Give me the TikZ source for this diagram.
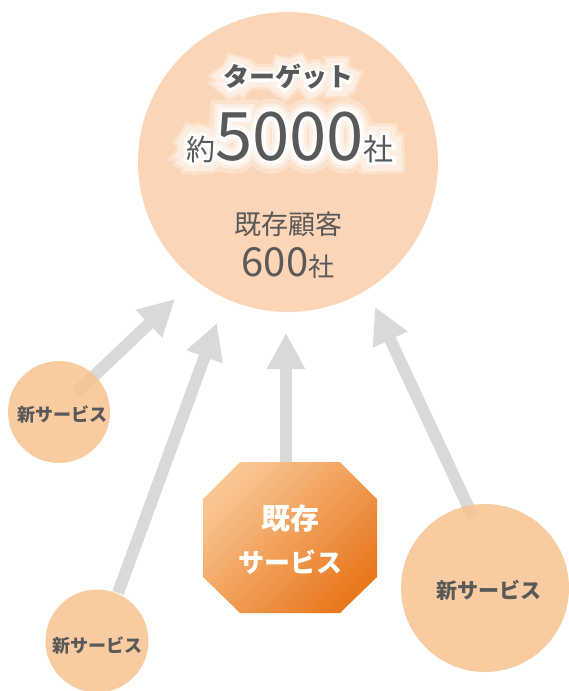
\documentclass[tikz,border=0pt]{standalone}
\usepackage{fontspec}
\setmainfont{Noto Sans CJK JP}
\newfontfamily\glowA[FakeBold=6,BoldFeatures={FakeBold=6}]{Noto Sans CJK JP}
\newfontfamily\glowB[FakeBold=14,BoldFeatures={FakeBold=14}]{Noto Sans CJK JP}
\newfontfamily\glowC[FakeBold=24,BoldFeatures={FakeBold=24}]{Noto Sans CJK JP}
\newfontfamily\glowD[FakeBold=38,BoldFeatures={FakeBold=38}]{Noto Sans CJK JP}
\newfontfamily\glowE[FakeBold=60,BoldFeatures={FakeBold=60}]{Noto Sans CJK JP}
\newfontfamily\glowF[FakeBold=80,BoldFeatures={FakeBold=80}]{Noto Sans CJK JP}
\usetikzlibrary{arrows.meta,calc}
\definecolor{bigc}{RGB}{251,213,181}
\definecolor{smallc}{RGB}{247,194,143}
\definecolor{arrowc}{RGB}{217,217,217}
\definecolor{txt}{RGB}{89,89,89}
\definecolor{octA}{RGB}{249,198,146}
\definecolor{octB}{RGB}{232,120,30}
\newcommand{\fs}[1]{\fontsize{#1}{#1}\selectfont}
\newcommand{\titletext}{ターゲット}
% #1: font switch for digits, #2: font switch for kanji
\newcommand{\countline}[2]{{#2\fs{29}約}{#1\fs{67}5000}{#2\fs{30}社}}
\tikzset{
  blockarrow/.style={draw=arrowc, line width=12pt, -{Triangle[width=36pt,length=36pt]}},
  bigcircle/.style={circle, fill=bigc, draw=none, inner sep=0pt, minimum size=300pt},
  svcircle/.style={circle, fill=smallc, fill opacity=0.85, draw=none, inner sep=0pt},
  lbl/.style={inner sep=0pt, text=txt},
  glow/.style={inner sep=0pt, text=white},
  svlbl/.style={inner sep=0pt, text=txt, font=\bfseries},
  octlbl/.style={inner sep=0pt, text=white, font=\bfseries\fs{27}},
}
\begin{document}
\begin{tikzpicture}[x=1pt,y=-1pt]
\useasboundingbox (0,0) rectangle (568,691);
% target circle
\node[bigcircle] (target) at (288,162) {};
% arrow end points
\coordinate (t1) at (76,393);   \coordinate (h1) at (175,299);
\coordinate (t2) at (118,593);  \coordinate (h2) at (217,323);
\coordinate (t3) at (286,463);  \coordinate (h3) at (286,333);
\coordinate (t4) at (473,517);  \coordinate (h4) at (375,307);
\draw[blockarrow] (t1) -- (h1);
\draw[blockarrow] (t2) -- (h2);
\draw[blockarrow] (t3) -- (h3);
\draw[blockarrow] (t4) -- (h4);
% service circles
\node[svcircle, minimum size=102pt] (s1) at (59,412) {};
\node[svcircle, minimum size=103pt] (s2) at (97,641) {};
\node[svcircle, minimum size=168pt] (s3) at (485,588) {};
% octagon
\shade[shading=axis, top color=octA, bottom color=octB, shading angle=45]
  (240,462) -- (340,462) -- (377,499) -- (377,577) -- (340,613) -- (240,613)
  -- (203,577) -- (203,499) -- cycle;
\coordinate (oct) at (290,538);
% soft white glow behind the target texts
\coordinate (ttl) at (288,77);
\coordinate (num) at (290,160);
\begin{scope}[transparency group, opacity=0.3]
  \node[glow, font=\glowF\bfseries\fs{26}] (g1) at (ttl) {\titletext};
  \node[glow, anchor=base] (g2) at (num) {\countline{\glowD}{\glowF}};
\end{scope}
\begin{scope}[transparency group, opacity=0.45]
  \node[glow, font=\glowE\bfseries\fs{26}] (g3) at (ttl) {\titletext};
  \node[glow, anchor=base] (g4) at (num) {\countline{\glowC}{\glowE}};
\end{scope}
\begin{scope}[transparency group, opacity=0.65]
  \node[glow, font=\glowC\bfseries\fs{26}] (g5) at (ttl) {\titletext};
  \node[glow, anchor=base] (g6) at (num) {\countline{\glowB}{\glowC}};
\end{scope}
\begin{scope}[transparency group, opacity=0.85]
  \node[glow, font=\glowB\bfseries\fs{26}] (g7) at (ttl) {\titletext};
  \node[glow, anchor=base] (g8) at (num) {\countline{\glowA}{\glowB}};
\end{scope}
% target texts
\node[lbl, font=\bfseries\fs{26}] (title) at (ttl) {\titletext};
\node[lbl, anchor=base] (count) at (num) {\countline{}{}};
\node[lbl, font=\fs{27}] (cust) at (288,224) {既存顧客};
\node[lbl, anchor=base] (cnum) at (288,276) {{\fs{40}600}{\fs{26}社}};
% labels
\node[svlbl, font=\bfseries\fs{18}] (l1) at (62,415) {新サービス};
\node[svlbl, font=\bfseries\fs{18}] (l2) at (97,645) {新サービス};
\node[svlbl, font=\bfseries\fs{21}] (l3) at (489,590) {新サービス};
\node[octlbl, font=\bfseries\fs{29}] (o1) at (290,519) {既存};
\node[octlbl, font=\bfseries\fs{26}] (o2) at (290,562) {サービス};
\end{tikzpicture}
\end{document}
